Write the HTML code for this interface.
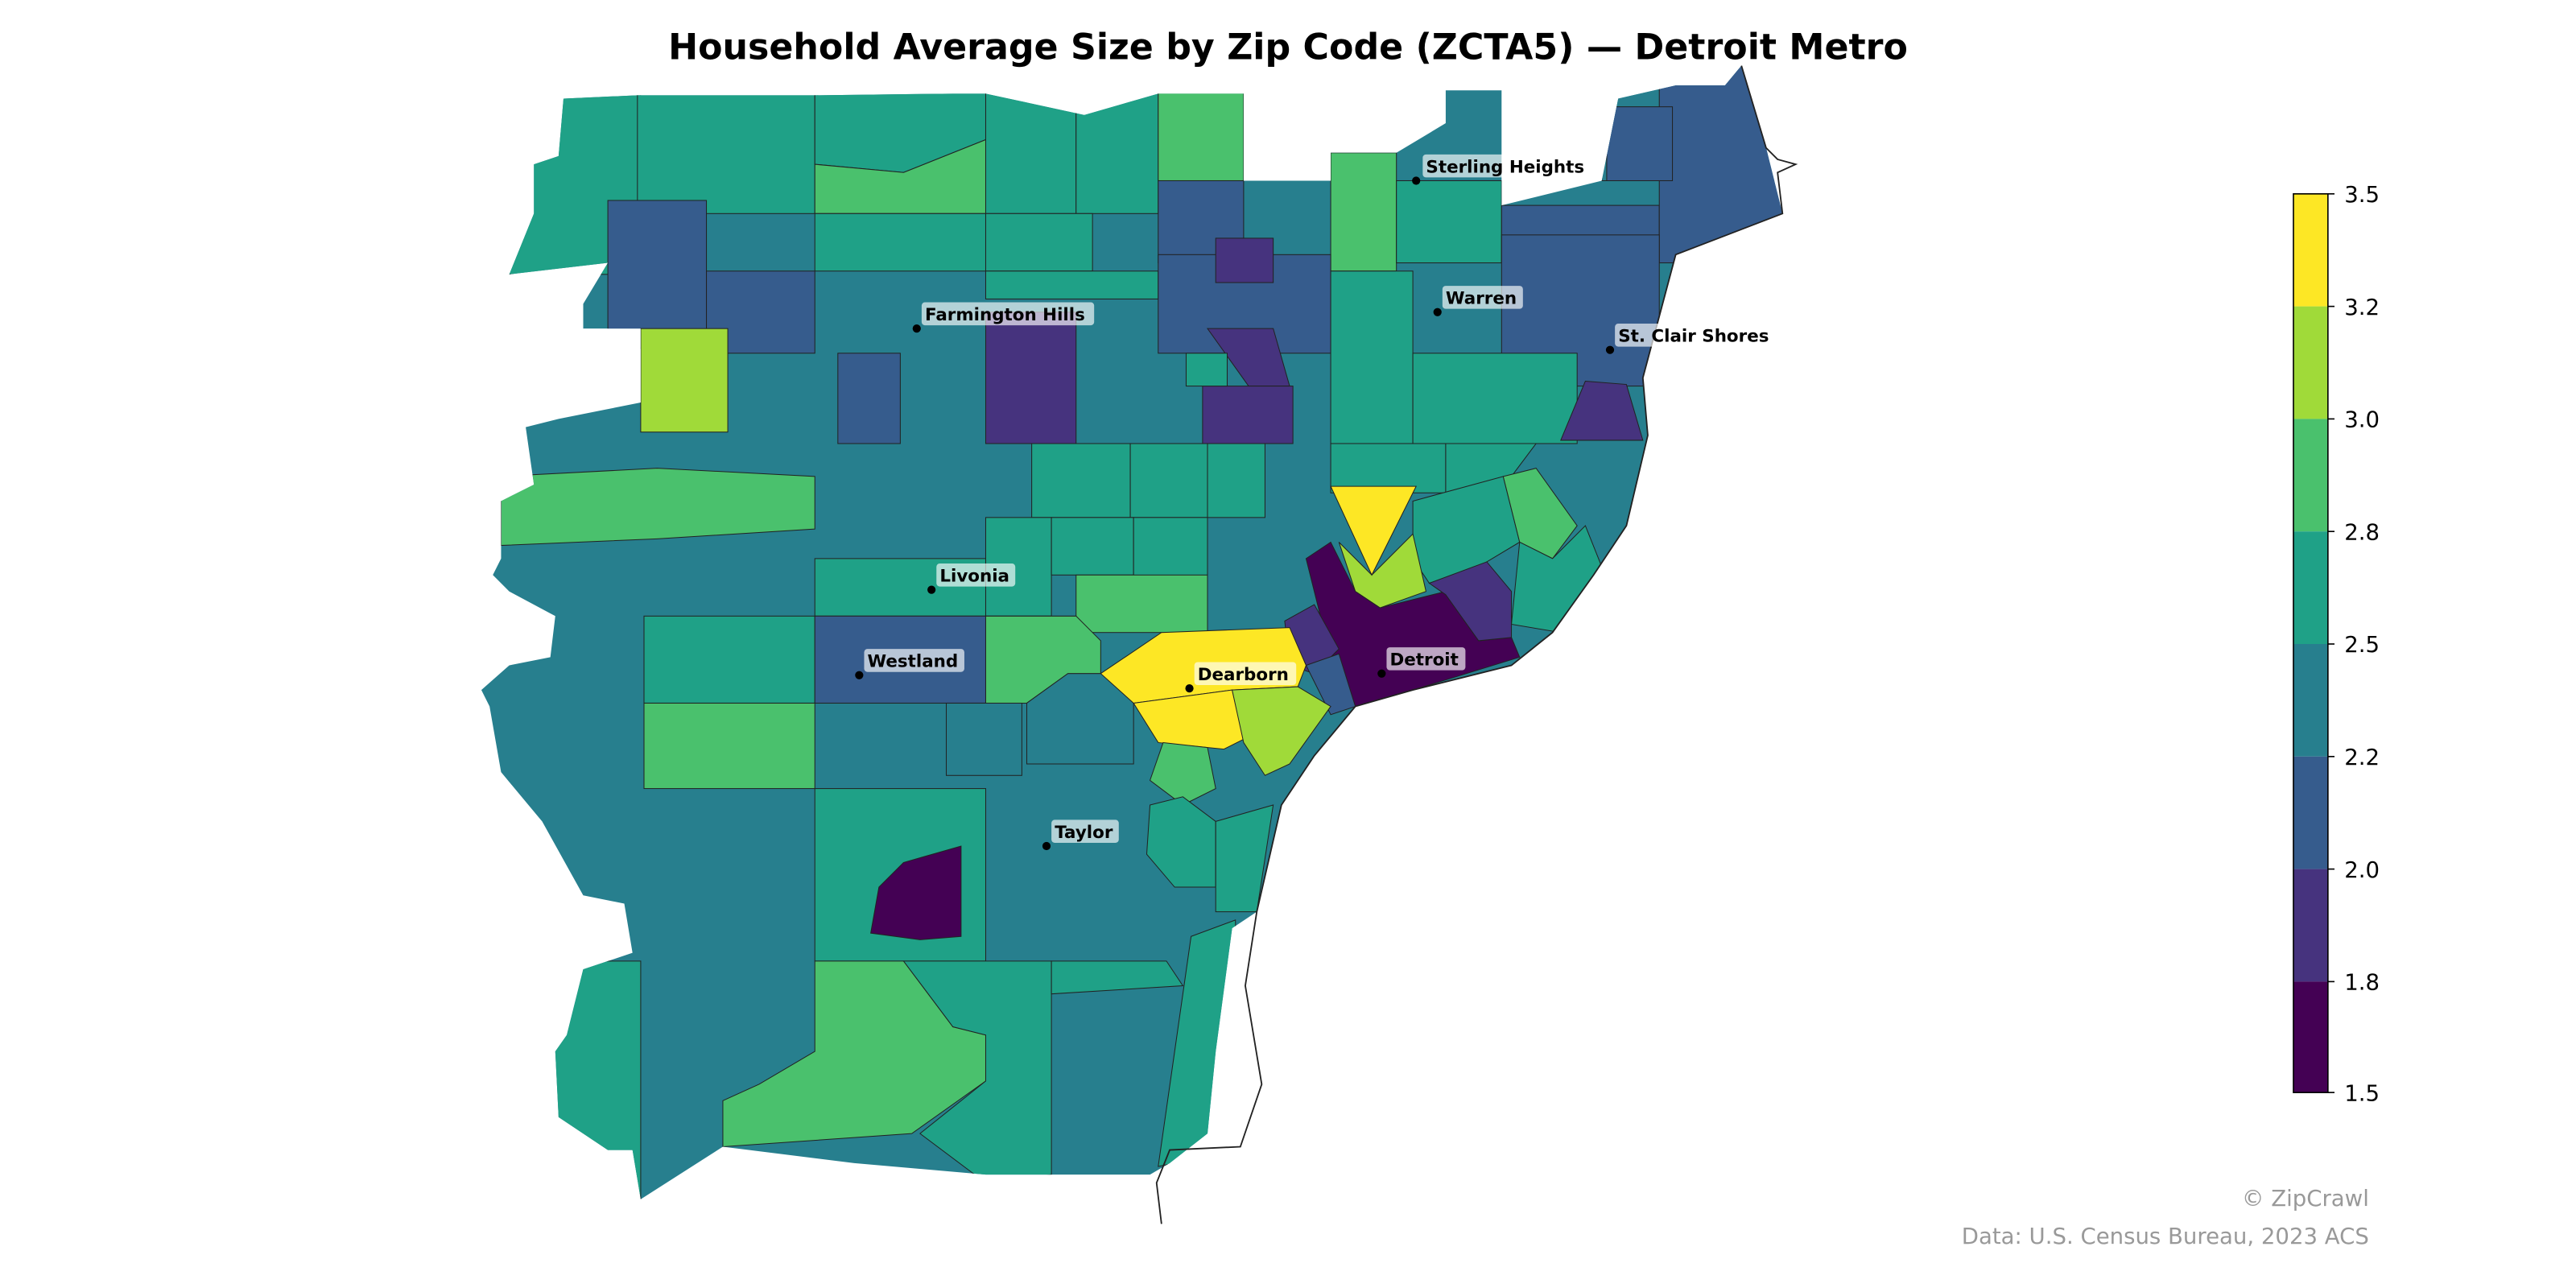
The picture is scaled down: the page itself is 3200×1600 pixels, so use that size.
<!DOCTYPE html>
<html><head><meta charset="utf-8"><style>
html,body{margin:0;padding:0;background:#fff;}
svg{display:block}
text{font-family:"DejaVu Sans","Liberation Sans",sans-serif;}
</style></head><body>
<svg width="3200" height="1600" viewBox="0 0 1568 784" xmlns="http://www.w3.org/2000/svg">
<rect width="1568" height="784" fill="#fff"/>
<text x="784" y="36" text-anchor="middle" font-size="21.7" font-weight="bold">Household Average Size by Zip Code (ZCTA5) — Detroit Metro</text>
<defs><clipPath id="c"><path id="outline" d="M343,60 L388,58 L496,58 L580,57 L600,57 L660,70 L705,57 L757,57 L757,110 L810,110 L810,93 L850,93 L880,75 L880,55 L914,55 L914,125 L975,110 L985,60 L1020,52 L1050,52 L1060,40 L1075,90 L1085,130 L1020,155 L1000,230 L1003,265 L990,320 L970,350 L945,385 L920,405 L860,420 L825,430 L800,460 L780,490 L765,555 L750,565 L740,640 L735,690 L712,708 L700,715 L600,715 L520,708 L440,698 L390,730 L385,700 L370,700 L340,680 L338,640 L345,630 L355,590 L385,580 L380,550 L355,545 L330,500 L305,470 L298,430 L293,420 L310,405 L335,400 L338,375 L310,360 L300,350 L305,340 L305,305 L325,295 L320,260 L340,255 L390,245 L390,200 L355,200 L355,185 L370,160 L310,167 L325,130 L325,100 L340,95 Z"/></clipPath></defs>
<g clip-path="url(#c)" stroke="#222" stroke-width="0.5">
<rect x="280" y="30" width="820" height="720" fill="#277f8e"/>
<rect x="300" y="50" width="90" height="117" fill="#1fa187"/>
<rect x="388" y="50" width="108" height="80" fill="#1fa187"/>
<path d="M496,50 L600,50 L600,85 L575,95 L550,105 L496,100 Z" fill="#1fa187"/>
<path d="M496,100 L550,105 L575,95 L600,85 L600,130 L496,130 Z" fill="#4ac16d"/>
<rect x="496" y="130" width="104" height="35" fill="#1fa187"/>
<rect x="600" y="50" width="55" height="80" fill="#1fa187"/>
<rect x="655" y="50" width="50" height="80" fill="#1fa187"/>
<rect x="705" y="50" width="52" height="60" fill="#4ac16d"/>
<rect x="600" y="130" width="65" height="35" fill="#1fa187"/>
<rect x="705" y="110" width="52" height="50" fill="#365c8d"/>
<rect x="810" y="93" width="40" height="72" fill="#4ac16d"/>
<rect x="850" y="110" width="64" height="50" fill="#1fa187"/>
<rect x="914" y="125" width="96" height="35" fill="#365c8d"/>
<rect x="975" y="40" width="120" height="70" fill="#277f8e"/>
<rect x="1010" y="40" width="90" height="120" fill="#365c8d"/>
<rect x="978" y="65" width="40" height="45" fill="#365c8d"/>
<rect x="370" y="122" width="60" height="90" fill="#365c8d"/>
<rect x="430" y="165" width="66" height="50" fill="#365c8d"/>
<rect x="390" y="200" width="53" height="63" fill="#a0da39"/>
<rect x="510" y="215" width="38" height="55" fill="#365c8d"/>
<rect x="600" y="165" width="105" height="17" fill="#1fa187"/>
<rect x="600" y="190" width="55" height="80" fill="#46337e"/>
<rect x="705" y="155" width="105" height="60" fill="#365c8d"/>
<rect x="740" y="145" width="35" height="27" fill="#46337e"/>
<path d="M735,200 L775,200 L785,235 L760,235 Z" fill="#46337e"/>
<rect x="732" y="235" width="55" height="35" fill="#46337e"/>
<rect x="722" y="215" width="25" height="20" fill="#1fa187"/>
<rect x="810" y="165" width="50" height="105" fill="#1fa187"/>
<rect x="914" y="143" width="96" height="92" fill="#365c8d"/>
<rect x="860" y="215" width="100" height="55" fill="#1fa187"/>
<path d="M965,232 L990,234 L1000,268 L950,268 Z" fill="#46337e"/>
<path d="M305,290 L400,285 L496,290 L496,322 L400,328 L305,332 Z" fill="#4ac16d"/>
<rect x="496" y="340" width="104" height="35" fill="#1fa187"/>
<rect x="628" y="270" width="60" height="45" fill="#1fa187"/>
<rect x="688" y="270" width="47" height="45" fill="#1fa187"/>
<rect x="735" y="270" width="35" height="45" fill="#1fa187"/>
<rect x="810" y="270" width="70" height="30" fill="#1fa187"/>
<path d="M880,270 L935,270 L920,290 L880,310 Z" fill="#1fa187"/>
<rect x="600" y="315" width="40" height="60" fill="#1fa187"/>
<rect x="640" y="315" width="50" height="35" fill="#1fa187"/>
<rect x="690" y="315" width="45" height="50" fill="#1fa187"/>
<rect x="655" y="350" width="80" height="35" fill="#4ac16d"/>
<path d="M860,305 L915,290 L925,330 L900,345 L870,355 L860,340 Z" fill="#1fa187"/>
<path d="M915,290 L935,285 L960,320 L945,340 L925,330 Z" fill="#4ac16d"/>
<path d="M925,330 L945,340 L965,320 L975,345 L950,385 L920,380 Z" fill="#1fa187"/>
<path d="M815,330 L835,350 L860,325 L868,360 L840,370 L825,360 Z" fill="#a0da39"/>
<path d="M810,296 L862,296 L835,350 Z" fill="#fde725"/>
<path d="M795,340 L810,330 L825,360 L840,370 L880,360 L900,390 L920,388 L925,400 L860,420 L825,432 L810,400 L805,380 Z" fill="#440154"/>
<path d="M870,355 L905,342 L920,360 L920,388 L900,390 L880,362 Z" fill="#46337e"/>
<path d="M782,378 L800,368 L815,395 L800,410 L785,405 Z" fill="#46337e"/>
<path d="M795,405 L815,398 L825,430 L810,435 Z" fill="#365c8d"/>
<rect x="392" y="375" width="104" height="53" fill="#1fa187"/>
<rect x="392" y="428" width="104" height="52" fill="#4ac16d"/>
<rect x="496" y="375" width="104" height="53" fill="#365c8d"/>
<path d="M600,375 L655,375 L670,390 L670,410 L650,410 L625,428 L600,428 Z" fill="#4ac16d"/>
<path d="M625,428 L650,410 L672,410 L690,428 L690,465 L625,465 Z" fill="#277f8e"/>
<path d="M670,410 L707,385 L785,382 L795,405 L790,418 L750,420 L690,428 Z" fill="#fde725"/>
<path d="M690,428 L750,420 L757,450 L745,456 L705,452 Z" fill="#fde725"/>
<path d="M750,420 L790,418 L810,430 L785,465 L770,472 L757,452 Z" fill="#a0da39"/>
<rect x="576" y="428" width="46" height="44" fill="#277f8e"/>
<path d="M708,452 L735,455 L740,480 L720,490 L700,475 Z" fill="#4ac16d"/>
<path d="M700,490 L720,485 L740,500 L740,540 L715,540 L698,520 Z" fill="#1fa187"/>
<path d="M740,500 L775,490 L765,555 L740,555 Z" fill="#1fa187"/>
<rect x="496" y="480" width="104" height="105" fill="#1fa187"/>
<path d="M550,525 L585,515 L585,570 L560,572 L530,568 L535,540 Z" fill="#440154"/>
<rect x="330" y="585" width="60" height="150" fill="#1fa187"/>
<path d="M496,585 L550,585 L580,625 L600,630 L600,658 L555,690 L440,698 L440,670 L462,660 L496,640 Z" fill="#4ac16d"/>
<path d="M550,585 L640,585 L640,620 L640,715 L600,720 L560,690 L600,658 L600,630 L580,625 Z" fill="#1fa187"/>
<path d="M640,585 L710,585 L720,600 L640,605 Z" fill="#1fa187"/>
<path d="M725,570 L752,560 L755,700 L705,710 L715,640 Z" fill="#1fa187"/>
</g>
<path d="M1060,40 L1075,90 L1082,97 L1093,100 L1082,105 L1085,130 L1020,155 L1000,230 L1003,265 L990,320 L970,350 L945,385 L920,405 L860,420 L825,430 L800,460 L780,490 L765,555 L758,600 L768,660 L755,698 L712,700 L704,720 L707,745" fill="none" stroke="#222" stroke-width="0.9"/>
<g font-size="10.5" font-weight="bold">
<g fill="#000"><circle cx="862" cy="110" r="2.5"/><circle cx="875" cy="190" r="2.5"/><circle cx="980" cy="213" r="2.5"/><circle cx="558" cy="200" r="2.5"/><circle cx="567" cy="359" r="2.5"/><circle cx="523" cy="411" r="2.5"/><circle cx="724" cy="419" r="2.5"/><circle cx="841" cy="410" r="2.5"/><circle cx="637" cy="515" r="2.5"/></g>
<g fill="#fff" fill-opacity="0.65"><rect x="866" y="94" width="103" height="14" rx="2"/><rect x="878" y="174" width="49" height="14" rx="2"/><rect x="983" y="197" width="98" height="14" rx="2"/><rect x="561" y="184" width="105" height="14" rx="2"/><rect x="570" y="343" width="48" height="14" rx="2"/><rect x="526" y="395" width="61" height="14" rx="2"/><rect x="727" y="403" width="62" height="14" rx="2"/><rect x="844" y="394" width="48" height="14" rx="2"/><rect x="640" y="499" width="41" height="14" rx="2"/></g>
<text x="868" y="105">Sterling Heights</text>
<text x="880" y="185">Warren</text>
<text x="985" y="208">St. Clair Shores</text>
<text x="563" y="195">Farmington Hills</text>
<text x="572" y="354">Livonia</text>
<text x="528" y="406">Westland</text>
<text x="729" y="414">Dearborn</text>
<text x="846" y="405">Detroit</text>
<text x="642" y="510">Taylor</text>
</g>
<g>
<rect x="1396" y="118" width="21" height="68.5" fill="#fde725"/>
<rect x="1396" y="186.5" width="21" height="68.5" fill="#a0da39"/>
<rect x="1396" y="255" width="21" height="68.5" fill="#4ac16d"/>
<rect x="1396" y="323.5" width="21" height="68.5" fill="#1fa187"/>
<rect x="1396" y="392" width="21" height="68.5" fill="#277f8e"/>
<rect x="1396" y="460.5" width="21" height="68.5" fill="#365c8d"/>
<rect x="1396" y="529" width="21" height="68.5" fill="#46337e"/>
<rect x="1396" y="597.5" width="21" height="67.5" fill="#440154"/>
<rect x="1396" y="118" width="21" height="547" fill="none" stroke="#000" stroke-width="0.8"/>
<g stroke="#000" stroke-width="0.8">
<line x1="1417" y1="118" x2="1421" y2="118"/><line x1="1417" y1="186.5" x2="1421" y2="186.5"/><line x1="1417" y1="255" x2="1421" y2="255"/><line x1="1417" y1="323.5" x2="1421" y2="323.5"/><line x1="1417" y1="392" x2="1421" y2="392"/><line x1="1417" y1="460.5" x2="1421" y2="460.5"/><line x1="1417" y1="529" x2="1421" y2="529"/><line x1="1417" y1="597.5" x2="1421" y2="597.5"/><line x1="1417" y1="665" x2="1421" y2="665"/>
</g>
<g font-size="13.5" fill="#000">
<text x="1427" y="123">3.5</text><text x="1427" y="191.5">3.2</text><text x="1427" y="260">3.0</text><text x="1427" y="328.5">2.8</text><text x="1427" y="397">2.5</text><text x="1427" y="465.5">2.2</text><text x="1427" y="534">2.0</text><text x="1427" y="602.5">1.8</text><text x="1427" y="670">1.5</text>
</g>
</g>
<text x="1442" y="734" text-anchor="end" font-size="13.5" fill="#999">© ZipCrawl</text>
<text x="1442" y="757" text-anchor="end" font-size="13.5" fill="#999">Data: U.S. Census Bureau, 2023 ACS</text>
</svg>
</body></html>
